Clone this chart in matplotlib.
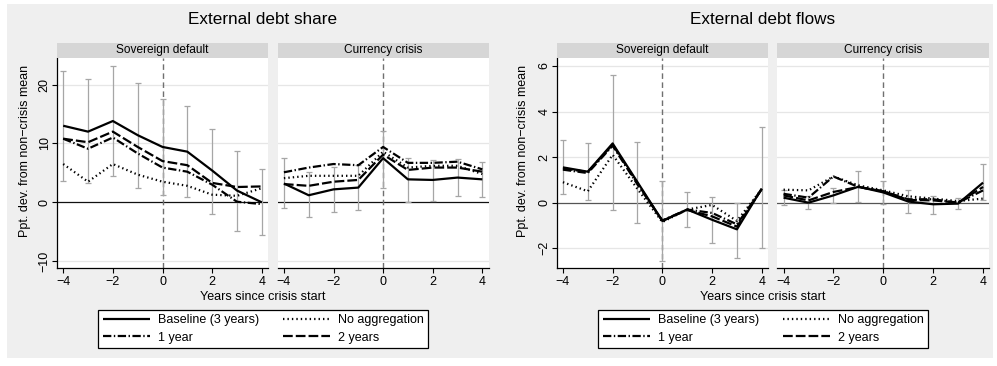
import numpy as np
import matplotlib.pyplot as plt
from matplotlib.patches import Rectangle
from matplotlib.lines import Line2D

plt.rcParams['font.family'] = ['Liberation Sans', 'DejaVu Sans']
plt.rcParams['lines.scale_dashes'] = False

years = [-4, -3, -2, -1, 0, 1, 2, 3, 4]

# External debt share - sovereign default
share_sd_base = [13.0, 12.0, 13.8, 11.4, 9.4, 8.6, 5.4, 2.0, 0.0]
share_sd_1yr = [10.8, 9.1, 11.0, 8.3, 5.9, 5.2, 3.0, 0.1, -0.3]
share_sd_2yr = [10.8, 10.2, 12.0, 9.4, 7.0, 6.3, 3.3, 2.6, 2.7]
share_sd_noagg = [6.5, 3.5, 6.5, 4.7, 3.5, 2.8, 1.3, 1.1, 2.4]
share_sd_lo = [3.7, 3.2, 4.5, 2.5, 1.2, 0.9, -1.9, -4.9, -5.6]
share_sd_hi = [22.3, 20.9, 23.2, 20.3, 17.6, 16.3, 12.4, 8.7, 5.6]

# External debt share - currency crisis
share_cc_base = [3.2, 1.2, 2.2, 2.5, 7.5, 3.9, 3.8, 4.2, 3.9]
share_cc_1yr = [5.1, 5.9, 6.5, 6.3, 9.4, 6.7, 6.7, 6.9, 5.6]
share_cc_2yr = [3.1, 2.8, 3.5, 3.8, 8.1, 5.5, 5.9, 5.9, 5.2]
share_cc_noagg = [4.1, 4.5, 4.5, 4.5, 8.6, 5.9, 6.2, 6.2, 4.8]
share_cc_lo = [-1.0, -2.5, -1.6, -1.3, 2.5, 0.1, 0.3, 1.0, 0.9]
share_cc_hi = [7.5, 5.2, 6.0, 6.3, 12.1, 7.6, 7.2, 7.3, 6.9]

# External debt flows - sovereign default
flow_sd_base = [1.55, 1.36, 2.6, 0.9, -0.8, -0.3, -0.75, -1.17, 0.62]
flow_sd_1yr = [1.45, 1.3, 2.5, 0.8, -0.78, -0.3, -0.45, -0.95, 0.6]
flow_sd_2yr = [1.5, 1.35, 2.55, 0.85, -0.8, -0.32, -0.6, -1.05, 0.6]
flow_sd_noagg = [0.9, 0.5, 2.1, 0.6, -0.85, -0.3, -0.1, -0.8, 0.6]
flow_sd_lo = [0.4, 0.1, -0.3, -0.9, -2.56, -1.05, -1.78, -2.44, -2.0]
flow_sd_hi = [2.75, 2.63, 5.6, 2.68, 0.96, 0.48, 0.26, -0.03, 3.3]

# External debt flows - currency crisis
flow_cc_base = [0.22, 0.0, 0.32, 0.7, 0.45, 0.05, -0.07, -0.04, 0.88]
flow_cc_1yr = [0.39, 0.22, 1.15, 0.69, 0.5, 0.15, 0.15, 0.0, 0.54]
flow_cc_2yr = [0.32, 0.1, 0.47, 0.69, 0.5, 0.12, 0.1, 0.0, 0.69]
flow_cc_noagg = [0.57, 0.54, 1.15, 0.76, 0.54, 0.28, 0.18, 0.07, 0.18]
flow_cc_lo = [-0.09, -0.29, -0.01, 0.03, -0.07, -0.45, -0.48, -0.28, 0.1]
flow_cc_hi = [0.57, 0.28, 0.64, 1.37, 0.95, 0.54, 0.31, 0.2, 1.71]

series_labels = ['Baseline (3 years)', '1 year', 'No aggregation', '2 years']
styles = {'Baseline (3 years)': (0, ()),
          '1 year': (0, (6, 1.8, 1, 1.8)),
          'No aggregation': (0, (1, 2.2)),
          '2 years': (0, (7, 2.2))}

W, H = 997, 366
fs = 9
fig = plt.figure(figsize=(W/100, H/100), dpi=100)
fig.patch.set_facecolor('white')
fig.patches.append(Rectangle((7/W, 1-358/H), 986/W, 354/H, transform=fig.transFigure,
                             facecolor='#efefef', edgecolor='none', zorder=-5))

def px(x0, y0, x1, y1):
    # pixel box (from top-left) -> figure fraction
    return [x0/W, 1-y1/H, (x1-x0)/W, (y1-y0)/H]

graphs = [
    dict(title='External debt share', cx=263, ylim=(-11.2, 24.5), yticks=[-10, 0, 10, 20],
         panels=[(57, 268, 'Sovereign default',
                  [share_sd_base, share_sd_1yr, share_sd_noagg, share_sd_2yr], share_sd_lo, share_sd_hi),
                 (277.7, 488.5, 'Currency crisis',
                  [share_cc_base, share_cc_1yr, share_cc_noagg, share_cc_2yr], share_cc_lo, share_cc_hi)],
         ylab_x=25, zcol='#111111'),
    dict(title='External debt flows', cx=763, ylim=(-2.88, 6.35), yticks=[-2, 0, 2, 4, 6],
         panels=[(556.7, 768, 'Sovereign default',
                  [flow_sd_base, flow_sd_1yr, flow_sd_noagg, flow_sd_2yr], flow_sd_lo, flow_sd_hi),
                 (777.3, 989.3, 'Currency crisis',
                  [flow_cc_base, flow_cc_1yr, flow_cc_noagg, flow_cc_2yr], flow_cc_lo, flow_cc_hi)],
         ylab_x=523, zcol='#555555'),
]

for g in graphs:
    for k, (x0, x1, name, lines, lo, hi) in enumerate(g['panels']):
        ax = fig.add_axes(px(x0, 58, x1, 268.3))
        ax.set_facecolor('white')
        ax.set_xlim(-4.25, 4.25)
        ax.set_ylim(*g['ylim'])
        ax.set_xticks([-4, -2, 0, 2, 4])
        ax.set_yticks(g['yticks'])
        for t in g['yticks']:
            if t != 0:
                ax.axhline(t, color='#e6e6e6', lw=0.9, zorder=0)
        ax.axhline(0, color=g['zcol'], lw=0.9, zorder=1)
        ax.axvline(0, color='#707070', lw=1.0, ls=(0, (4, 2.5)), zorder=1)
        lo = np.array(lo); hi = np.array(hi)
        ax.errorbar(years, (lo+hi)/2, yerr=(hi-lo)/2, fmt='none', ecolor='#a6a6a6',
                    elinewidth=0.9, capsize=2.5, capthick=0.9, zorder=2)
        for lab, vals in zip(series_labels, lines):
            ax.plot(years, vals, color='black', lw=1.6, ls=styles[lab], zorder=3,
                    solid_capstyle='butt', dash_capstyle='butt')
        for s in ['top', 'right']:
            ax.spines[s].set_visible(False)
        ax.spines['bottom'].set_linewidth(0.9)
        ax.tick_params(axis='x', labelsize=fs, length=3.5, width=0.8, pad=2)
        if k == 0:
            ax.spines['left'].set_linewidth(0.9)
            ax.tick_params(axis='y', labelsize=fs, length=3.5, width=0.8, pad=1)
            for t in ax.get_yticklabels():
                t.set_rotation(90)
                t.set_va('center')
        else:
            ax.spines['left'].set_visible(False)
            ax.tick_params(axis='y', left=False, labelleft=False)
        # strip
        sx = fig.add_axes(px(x0, 43, x1, 58))
        sx.set_facecolor('#d6d6d6')
        sx.set_xticks([]); sx.set_yticks([])
        for s in sx.spines.values():
            s.set_visible(False)
        sx.text(0.5, 0.5, name, ha='center', va='center', fontsize=8.6, transform=sx.transAxes)

    fig.text(g['cx']/W, 1-20/H, g['title'], ha='center', va='center', fontsize=12.3)
    fig.text(g['cx']/W, 1-297/H, 'Years since crisis start', ha='center', va='center', fontsize=fs)
    fig.text(g['ylab_x']/W, 1-151/H, 'Ppt. dev. from non\u2212crisis mean', ha='center', va='center',
             rotation=90, fontsize=fs)

    handles = [Line2D([], [], color='black', lw=1.6, ls=styles[l], dash_capstyle='butt')
               for l in series_labels]
    leg = fig.legend(handles, series_labels, ncol=2, loc='center',
                     bbox_to_anchor=(g['cx']/W, 1-329/H), fontsize=fs,
                     frameon=True, fancybox=False, edgecolor='black', facecolor='white',
                     framealpha=1, handlelength=3.8, handletextpad=0.6, columnspacing=1.9,
                     labelspacing=0.4, borderpad=0.35, borderaxespad=0)
    leg.get_frame().set_linewidth(0.9)

fig.savefig('out.png', dpi=100)
